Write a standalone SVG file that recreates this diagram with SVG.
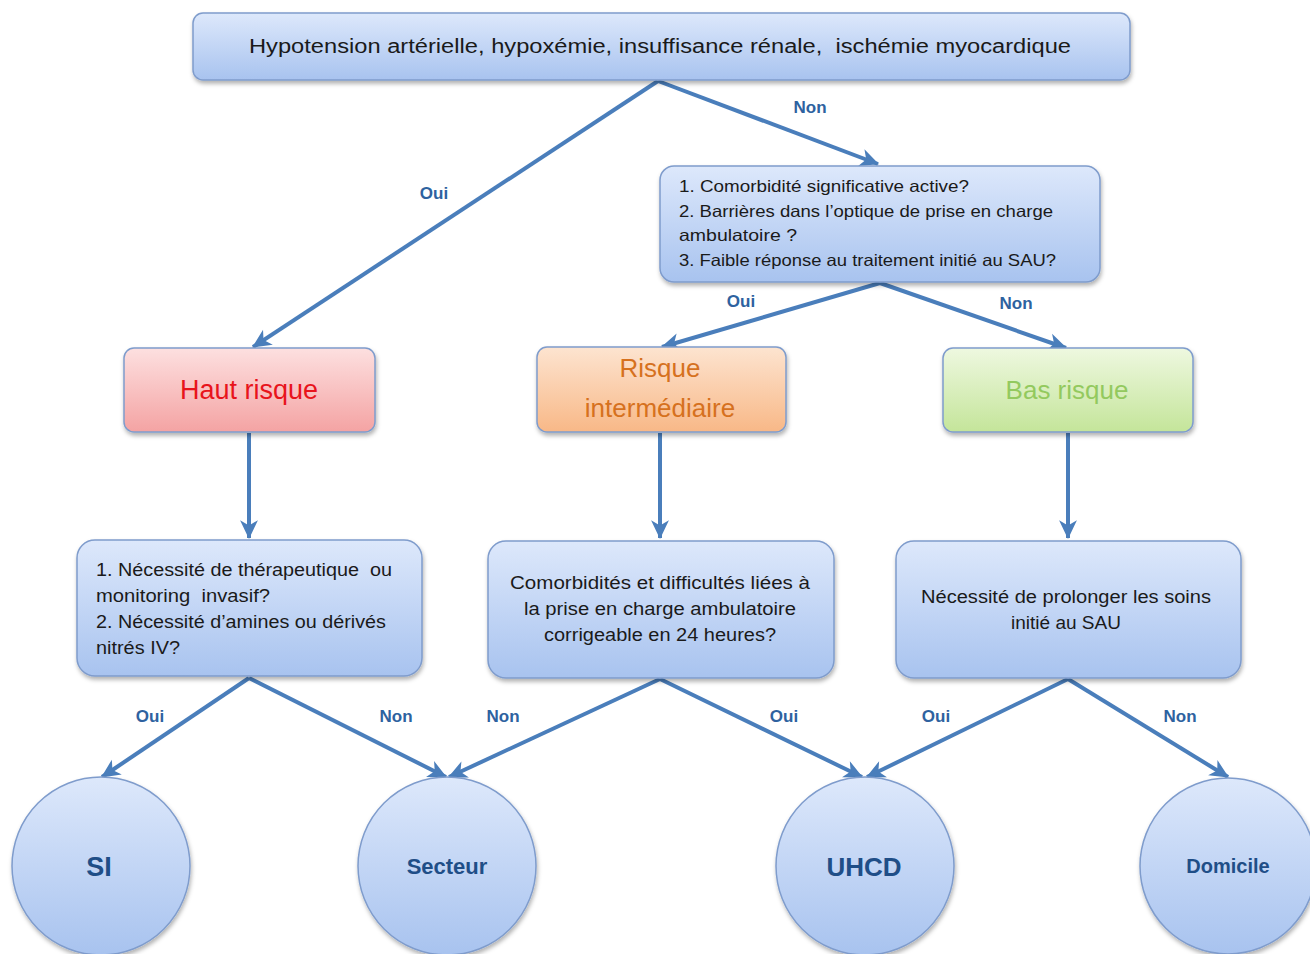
<svg xmlns="http://www.w3.org/2000/svg" width="1310" height="954" viewBox="0 0 1310 954">
<defs>
<linearGradient id="gBlue" x1="0" y1="0" x2="0" y2="1"><stop offset="0" stop-color="#dde8fb"/><stop offset="1" stop-color="#a8c3ef"/></linearGradient>
<linearGradient id="gRed" x1="0" y1="0" x2="0" y2="1"><stop offset="0" stop-color="#fde0e0"/><stop offset="1" stop-color="#f4a3a3"/></linearGradient>
<linearGradient id="gOrange" x1="0" y1="0" x2="0" y2="1"><stop offset="0" stop-color="#fde4d0"/><stop offset="1" stop-color="#f8b887"/></linearGradient>
<linearGradient id="gGreen" x1="0" y1="0" x2="0" y2="1"><stop offset="0" stop-color="#eef8e0"/><stop offset="1" stop-color="#c4e59a"/></linearGradient>
<filter id="sh" x="-10%" y="-10%" width="120%" height="130%"><feDropShadow dx="1" dy="3" stdDeviation="2" flood-color="#000" flood-opacity="0.3"/></filter>
<marker id="arr" viewBox="0 0 20 20" refX="18" refY="10" markerWidth="21" markerHeight="21" orient="auto" markerUnits="userSpaceOnUse"><path d="M1,1.5 L19,10 L1,18.5 L6,10 z" fill="#4a7ebb"/></marker>
</defs>
<style>
text{white-space:pre}
.box{stroke:#7f9ccc;stroke-width:1.5;filter:url(#sh)}
.blue{fill:url(#gBlue)}
.t{font-family:"Liberation Sans",Arial,sans-serif;fill:#1a1a1a}
.lbl{font-family:"Liberation Sans",Arial,sans-serif;font-weight:bold;font-size:17px;fill:#2e62a0;text-anchor:middle}
.con{stroke:#4a7ebb;stroke-width:4;fill:none;marker-end:url(#arr)}
.circ{font-family:"Liberation Sans",Arial,sans-serif;font-weight:bold;fill:#1f4e87;text-anchor:middle}
</style>
<rect width="1310" height="954" fill="#ffffff"/>
<g id="connectors">
<line class="con" x1="658" y1="81" x2="253" y2="347"/>
<line class="con" x1="658" y1="81" x2="878" y2="164"/>
<line class="con" x1="880" y1="283" x2="662" y2="347"/>
<line class="con" x1="880" y1="283" x2="1066" y2="348"/>
<line class="con" x1="249" y1="433" x2="249" y2="538"/>
<line class="con" x1="660" y1="433" x2="660" y2="538"/>
<line class="con" x1="1068" y1="433" x2="1068" y2="538"/>
<line class="con" x1="249" y1="678" x2="102" y2="777"/>
<line class="con" x1="249" y1="678" x2="446" y2="777"/>
<line class="con" x1="660" y1="679" x2="449" y2="777"/>
<line class="con" x1="660" y1="679" x2="862" y2="777"/>
<line class="con" x1="1068" y1="679" x2="867" y2="777"/>
<line class="con" x1="1068" y1="679" x2="1228" y2="777"/>
<text class="lbl" x="434" y="199">Oui</text>
<text class="lbl" x="810" y="113">Non</text>
<text class="lbl" x="741" y="307">Oui</text>
<text class="lbl" x="1016" y="309">Non</text>
<text class="lbl" x="150" y="722">Oui</text>
<text class="lbl" x="396" y="722">Non</text>
<text class="lbl" x="503" y="722">Non</text>
<text class="lbl" x="784" y="722">Oui</text>
<text class="lbl" x="936" y="722">Oui</text>
<text class="lbl" x="1180" y="722">Non</text>
</g>
<g id="top">
<rect class="box blue" x="193" y="13" width="937" height="67" rx="10"/>
<text class="t" x="660" y="53" font-size="20" text-anchor="middle" textLength="822" lengthAdjust="spacingAndGlyphs">Hypotension artérielle, hypoxémie, insuffisance rénale,  ischémie myocardique</text>
</g>
<g id="q1">
<rect class="box blue" x="660" y="166" width="440" height="116" rx="14"/>
<text class="t" font-size="16.5"><tspan x="679" y="192" textLength="290" lengthAdjust="spacingAndGlyphs">1. Comorbidité significative active?</tspan><tspan x="679" y="217" textLength="374" lengthAdjust="spacingAndGlyphs">2. Barrières dans l’optique de prise en charge</tspan><tspan x="679" y="241" textLength="118" lengthAdjust="spacingAndGlyphs">ambulatoire ?</tspan><tspan x="679" y="266" textLength="377" lengthAdjust="spacingAndGlyphs">3. Faible réponse au traitement initié au SAU?</tspan></text>
</g>
<g id="haut">
<rect class="box" x="124" y="348" width="251" height="84" rx="10" fill="url(#gRed)" stroke="#d99"/>
<text x="249" y="399" font-family="Liberation Sans,Arial,sans-serif" font-size="27" fill="#e8141c" text-anchor="middle">Haut risque</text>
</g>
<g id="inter">
<rect class="box" x="537" y="347" width="249" height="85" rx="10" fill="url(#gOrange)" stroke="#e0ab80"/>
<text font-family="Liberation Sans,Arial,sans-serif" font-size="26" fill="#d6711e" text-anchor="middle"><tspan x="660" y="377">Risque</tspan><tspan x="660" y="417">intermédiaire</tspan></text>
</g>
<g id="bas">
<rect class="box" x="943" y="348" width="250" height="84" rx="10" fill="url(#gGreen)" stroke="#b5d48e"/>
<text x="1067" y="399" font-family="Liberation Sans,Arial,sans-serif" font-size="26" fill="#93c95e" text-anchor="middle">Bas risque</text>
</g>
<g id="qL">
<rect class="box blue" x="77" y="540" width="345" height="136" rx="18"/>
<text class="t" font-size="17.5"><tspan x="96" y="576" textLength="296" lengthAdjust="spacingAndGlyphs">1. Nécessité de thérapeutique  ou</tspan><tspan x="96" y="602" textLength="174" lengthAdjust="spacingAndGlyphs">monitoring  invasif?</tspan><tspan x="96" y="628" textLength="290" lengthAdjust="spacingAndGlyphs">2. Nécessité d’amines ou dérivés</tspan><tspan x="96" y="654" textLength="84" lengthAdjust="spacingAndGlyphs">nitrés IV?</tspan></text>
</g>
<g id="qM">
<rect class="box blue" x="488" y="541" width="346" height="137" rx="18"/>
<text class="t" font-size="17.5" text-anchor="middle"><tspan x="660" y="589" textLength="300" lengthAdjust="spacingAndGlyphs">Comorbidités et difficultés liées à</tspan><tspan x="660" y="615" textLength="272" lengthAdjust="spacingAndGlyphs">la prise en charge ambulatoire</tspan><tspan x="660" y="641" textLength="232" lengthAdjust="spacingAndGlyphs">corrigeable en 24 heures?</tspan></text>
</g>
<g id="qR">
<rect class="box blue" x="896" y="541" width="345" height="137" rx="18"/>
<text class="t" font-size="17.5" text-anchor="middle"><tspan x="1066" y="603" textLength="290" lengthAdjust="spacingAndGlyphs">Nécessité de prolonger les soins</tspan><tspan x="1066" y="629" textLength="110" lengthAdjust="spacingAndGlyphs">initié au SAU</tspan></text>
</g>
<g id="si">
<circle class="box blue" cx="101" cy="866" r="89"/>
<text class="circ" x="99" y="876" font-size="27">SI</text>
</g>
<g id="secteur">
<circle class="box blue" cx="447" cy="866" r="89"/>
<text class="circ" x="447" y="874" font-size="22">Secteur</text>
</g>
<g id="uhcd">
<circle class="box blue" cx="865" cy="866" r="89"/>
<text class="circ" x="864" y="876" font-size="26">UHCD</text>
</g>
<g id="domicile">
<circle class="box blue" cx="1228" cy="866" r="88"/>
<text class="circ" x="1228" y="873" font-size="20">Domicile</text>
</g>
</svg>
